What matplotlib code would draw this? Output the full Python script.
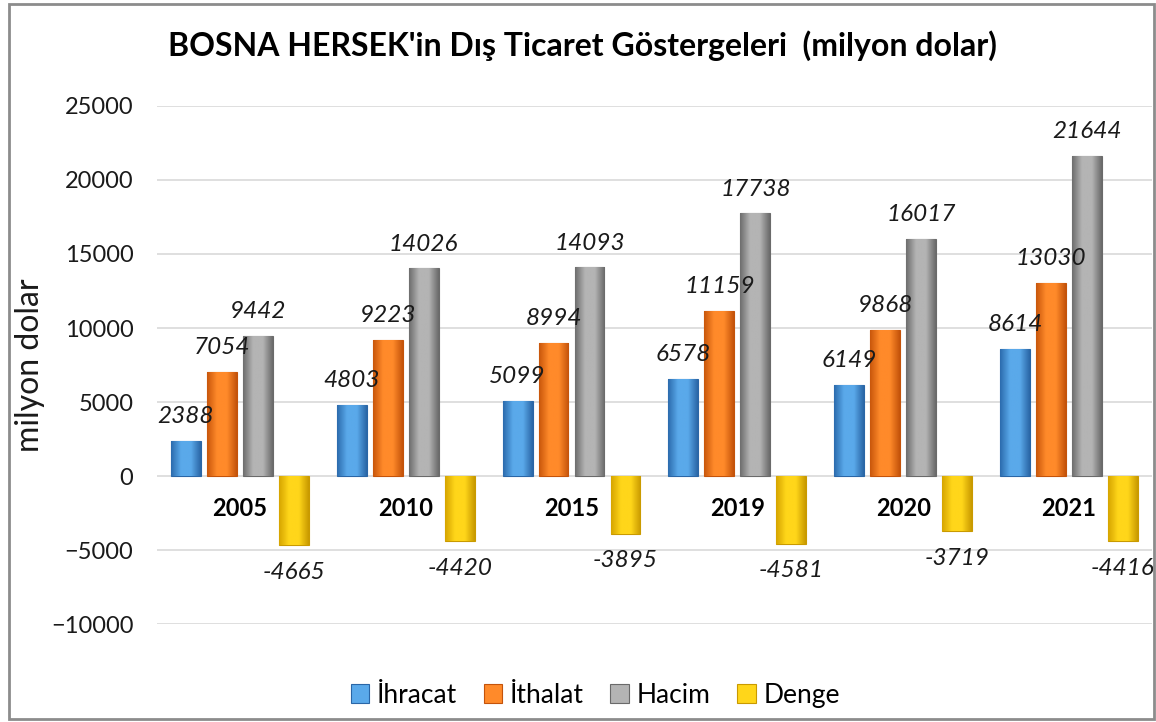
import matplotlib

matplotlib.use("Agg")
import matplotlib.pyplot as plt
import numpy as np
from matplotlib.colors import LinearSegmentedColormap
from matplotlib.patches import Rectangle

plt.rcParams["font.family"] = ["Lato", "DejaVu Sans"]

years = ["2005", "2010", "2015", "2019", "2020", "2021"]
ihracat = [2388, 4803, 5099, 6578, 6149, 8614]
ithalat = [7054, 9223, 8994, 11159, 9868, 13030]
hacim = [9442, 14026, 14093, 17738, 16017, 21644]
denge = [-4665, -4420, -3895, -4581, -3719, -4416]

series = [
    ("İhracat", ihracat, ("#2c6cae", "#5aa9ea", "#2a66a6")),
    ("İthalat", ithalat, ("#c9570c", "#ff8a2a", "#c4530a")),
    ("Hacim", hacim, ("#6e6e6e", "#b4b4b4", "#6a6a6a")),
    ("Denge", denge, ("#d6a500", "#ffd61a", "#c99a00")),
]

fig = plt.figure(figsize=(11.56, 7.22), dpi=100)
ax = fig.add_axes([0.1358, 0.1357, 0.8607, 0.7175])

x = np.arange(len(years))
width = 0.18
step = 0.217
grad = np.linspace(0, 1, 64).reshape(1, -1)

for i, (name, vals, cols) in enumerate(series):
    offs = (i - 1.5) * step
    cmap = LinearSegmentedColormap.from_list(name, [cols[0], cols[1], cols[1], cols[2]])
    bars = ax.bar(x + offs, vals, width, color=cols[1], edgecolor=cols[2],
                  linewidth=0.8, label=name, zorder=3)
    # soft horizontal shading inside each bar
    for b in bars:
        x0, w = b.get_x(), b.get_width()
        y0, h = b.get_y(), b.get_height()
        im = ax.imshow(grad, cmap=cmap, extent=[x0, x0 + w, y0, y0 + h],
                       aspect="auto", zorder=3.5, origin="lower")
        im.set_clip_path(b)
    for xi, v in zip(x + offs, vals):
        if v >= 0:
            ax.annotate(f"{v}", (xi, v), xytext=(0, 10), textcoords="offset points",
                        ha="center", va="bottom", fontsize=17.5, style="italic",
                        color="#1a1a1a", zorder=6, annotation_clip=False)
        else:
            ax.annotate(f"{v}", (xi, v), xytext=(0, -12), textcoords="offset points",
                        ha="center", va="top", fontsize=17.5, style="italic",
                        color="#1a1a1a", zorder=6, annotation_clip=False)

for xi, yr in zip(x, years):
    ax.text(xi, -2200, yr, ha="center", va="center", fontsize=17,
            fontweight="bold", color="black", zorder=6)

ax.set_xlim(-0.5, len(years) - 0.5)
ax.set_ylim(-10000, 25000)
ax.set_yticks(np.arange(-10000, 25001, 5000))
ax.set_xticks([])
ax.tick_params(axis="y", length=0, pad=17, labelsize=17, labelcolor="#1a1a1a")
ax.grid(axis="y", color="#d9d9d9", linewidth=1.2, zorder=0)
for s in ax.spines.values():
    s.set_visible(False)

ax.set_ylabel("milyon dolar", fontsize=23, color="#1a1a1a")
ax.yaxis.set_label_coords(-0.113, 0.5)

fig.text(0.504, 0.937, "BOSNA HERSEK'in Dış Ticaret Göstergeleri  (milyon dolar)",
         ha="center", va="center", fontsize=23, fontweight="bold", color="black")

handles, labels = ax.get_legend_handles_labels()
fig.legend(handles, labels, loc="center", bbox_to_anchor=(0.515, 0.037), ncol=4,
           frameon=False, fontsize=19, handlelength=0.7, handleheight=0.7,
           handletextpad=0.3, columnspacing=1.0)

fig.add_artist(Rectangle((0.008, 0.004), 0.99, 0.991, transform=fig.transFigure,
                         fill=False, edgecolor="#8c8c8c", linewidth=2))

fig.savefig("out.png", dpi=100)
